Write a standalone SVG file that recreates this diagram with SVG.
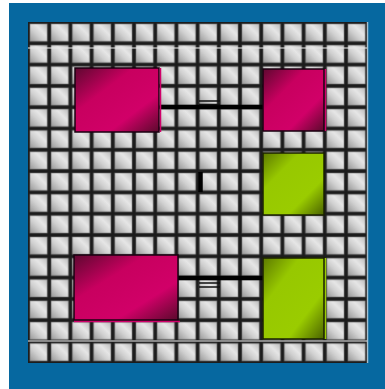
<svg xmlns="http://www.w3.org/2000/svg" width="385" height="389" viewBox="0 0 385 389">
  <defs>
    <linearGradient id="tileG" x1="0" y1="1" x2="1" y2="0">
      <stop offset="0" stop-color="#9a9a9a"/>
      <stop offset="0.4" stop-color="#cfcfcf"/>
      <stop offset="0.65" stop-color="#e6e6e6"/>
      <stop offset="1" stop-color="#bdbdbd"/>
    </linearGradient>
    <pattern id="tiles" x="28" y="22" width="21.2" height="21.3" patternUnits="userSpaceOnUse">
      <rect width="21.2" height="21.3" fill="#1c1c1c"/>
      <rect x="1.6" y="1.6" width="18" height="18.1" fill="#6a6a6a"/>
      <rect x="2.2" y="2.2" width="16.8" height="16.9" fill="url(#tileG)"/>
    </pattern>
    <linearGradient id="magG" x1="0" y1="0" x2="1" y2="1">
      <stop offset="0" stop-color="#5e0830"/>
      <stop offset="0.35" stop-color="#c8005f"/>
      <stop offset="0.7" stop-color="#d10068"/>
      <stop offset="1" stop-color="#5a0a2c"/>
    </linearGradient>
    <linearGradient id="grnG" x1="0" y1="0" x2="1" y2="1">
      <stop offset="0" stop-color="#5d7a00"/>
      <stop offset="0.3" stop-color="#97c800"/>
      <stop offset="0.7" stop-color="#9acc00"/>
      <stop offset="1" stop-color="#4a6200"/>
    </linearGradient>
  </defs>
  <style>
    .mag { fill: url(#magG); stroke: #1a0010; stroke-width: 1.5; }
    .grn { fill: url(#grnG); stroke: #1a2000; stroke-width: 1.5; }
    .con { stroke: #000; stroke-width: 4.5; fill: none; }
    .eq { stroke: #111; stroke-width: 1.6; fill: none; }
    .hl { stroke: #e6e6e6; stroke-width: 1.5; opacity: 0.7; }
  </style>
  <rect x="9" y="3" width="376" height="386" fill="#0668a0"/>
  <g id="grid">
    <rect x="28" y="22" width="339" height="341" fill="url(#tiles)"/>
    <line class="hl" x1="28" y1="48" x2="367" y2="48"/>
    <line class="hl" x1="28" y1="341" x2="367" y2="341"/>
    <line class="hl" x1="367.5" y1="22" x2="367.5" y2="363"/>
  </g>
  <g id="connectors">
    <line class="con" x1="160" y1="107" x2="263" y2="107"/>
    <path class="eq" d="M199 101 H220 M199 104.5 H220"/>
    <line class="con" x1="200.5" y1="172" x2="200.5" y2="192"/>
    <line class="con" x1="178" y1="278" x2="263" y2="278"/>
    <path class="eq" d="M199 283 H220 M199 287 H220"/>
  </g>
  <g id="node-a">
    <rect class="mag" x="75" y="68" width="84" height="64"/>
    <line x1="160.5" y1="68" x2="160.5" y2="132" stroke="#d0006a" stroke-width="1.5"/>
  </g>
  <g id="node-b">
    <rect class="mag" x="263" y="69" width="61" height="62"/>
    <line x1="325.5" y1="69" x2="325.5" y2="131" stroke="#d0006a" stroke-width="1.5"/>
  </g>
  <g id="node-c">
    <rect class="grn" x="263" y="153" width="61" height="62"/>
  </g>
  <g id="node-d">
    <rect class="mag" x="74" y="255" width="104" height="65"/>
    <line x1="74" y1="321.5" x2="180" y2="321.5" stroke="#d0006a" stroke-width="1.5"/>
  </g>
  <g id="node-e">
    <rect class="grn" x="263" y="258" width="61" height="81"/>
    <line x1="325.5" y1="258" x2="325.5" y2="339" stroke="#9acc00" stroke-width="1.5"/>
  </g>
</svg>
